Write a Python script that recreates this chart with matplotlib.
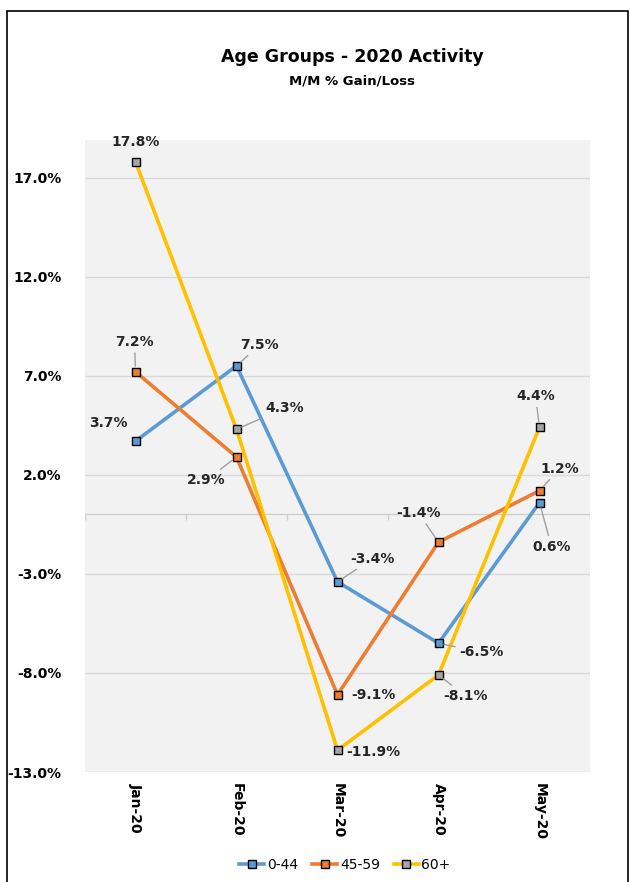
import numpy as np
import matplotlib.pyplot as plt
from matplotlib.patches import Rectangle

# datos
meses = ["Jan-20", "Feb-20", "Mar-20", "Apr-20", "May-20"]
g044 = [3.7, 7.5, -3.4, -6.5, 0.6]
g4559 = [7.2, 2.9, -9.1, -1.4, 1.2]
g60 = [17.8, 4.3, -11.9, -8.1, 4.4]
yticks = [-13, -8, -3, 2, 7, 12, 17]

# desplazamientos de etiquetas (pixeles) y si llevan linea guia
off044 = [(-27, 18), (23, 21), (35, 23), (43, -9), (12, -44)]
off4559 = [(-1, 30), (-30, -23), (36, 0), (-20, 29), (20, 22)]
off60 = [(0, 20), (48, 21), (36, -2), (27, -21), (-4, 31)]
guia044 = [False, True, True, True, True]
guia4559 = [True, True, False, True, True]
guia60 = [False, True, False, True, True]

fig = plt.figure(figsize=(6.3, 8.82), dpi=100)
fig.patches.append(Rectangle((7/630, -0.01), 621/630, 1 - 11/882 + 0.01,
                             transform=fig.transFigure, fill=False,
                             edgecolor='black', linewidth=1.2))
ax = fig.add_axes([85/630, 1 - 772/882, 505/630, 632/882])
ax.set_facecolor('#f2f2f2')
for s in ax.spines.values():
    s.set_visible(False)

x = np.arange(len(meses))
ax.set_xlim(-0.5, 4.5)
ax.set_ylim(-13, 18.9)
ax.set_yticks(yticks)
ax.set_yticklabels([f"{v:.1f}%" for v in yticks], fontweight='bold', fontsize=10)
ax.tick_params(axis='y', length=0, pad=17)
ax.set_xticks(x)
ax.set_xticklabels(meses, rotation=-90, fontweight='bold', fontsize=10)
ax.tick_params(axis='x', length=0, pad=8)
ax.grid(axis='y', color='#d9d9d9', linewidth=1)
ax.set_axisbelow(True)

# eje en cero con marcas
ax.axhline(0, color='#d0d0d0', linewidth=1, zorder=1)
ax.vlines(np.arange(-0.5, 5, 1), -0.3, 0, color='#d0d0d0', linewidth=1, zorder=1)

series = [(g044, '#5b9bd5', '#5b9bd5', '0-44', off044, guia044),
          (g4559, '#ed7d31', '#ed7d31', '45-59', off4559, guia4559),
          (g60, '#ffc000', '#a5a5a5', '60+', off60, guia60)]

for vals, col, mfc, lab, offs, guias in series:
    ax.plot(x, vals, color=col, linewidth=2.6, marker='s', markersize=6,
            markerfacecolor=mfc, markeredgecolor='black', markeredgewidth=1,
            label=lab, zorder=3)

for vals, col, mfc, lab, offs, guias in series:
    for xi, v, o, g in zip(x, vals, offs, guias):
        arr = None
        if g:
            arr = dict(arrowstyle='-', color='#a0a0a0', linewidth=1,
                       shrinkA=1, shrinkB=4)
        ax.annotate(f"{v:.1f}%", (xi, v), xytext=o, textcoords='offset pixels',
                    ha='center', va='center', fontsize=10, fontweight='bold',
                    color='#262626', arrowprops=arr, zorder=4)

fig.text(352/630, 1 - 57/882, "Age Groups - 2020 Activity", ha='center',
         va='center', fontsize=12.5, fontweight='bold')
fig.text(352/630, 1 - 81/882, "M/M % Gain/Loss", ha='center', va='center',
         fontsize=9.5, fontweight='bold')

fig.legend(loc='center', bbox_to_anchor=(345/630, 1 - 865/882), ncol=3,
           frameon=False, fontsize=10, handlelength=1.8, columnspacing=1.0,
           handletextpad=0.2)

fig.savefig('out.png', dpi=100)
